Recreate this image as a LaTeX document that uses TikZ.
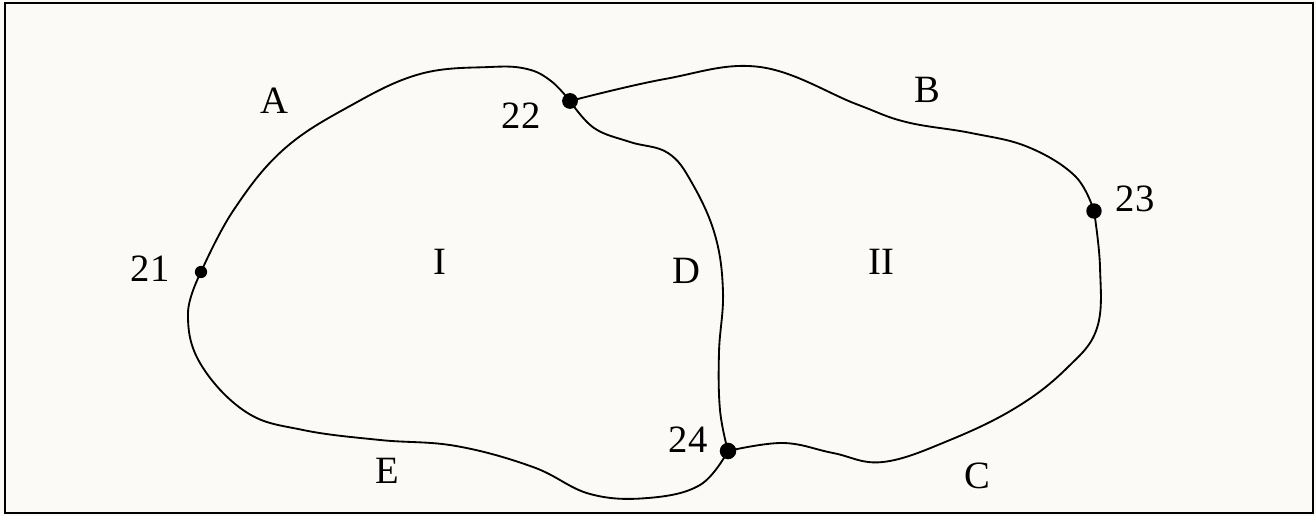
\documentclass[tikz,border=0pt]{standalone}
\usepackage{fontspec}
\setmainfont{Liberation Serif}
\begin{document}
\begin{tikzpicture}[x=0.02cm,y=-0.02cm,
  curve/.style={line width=1.05pt, line join=round, line cap=round},
  vertex/.style={circle, fill=black, inner sep=0pt, minimum size=#1},
  lbl/.style={inner sep=0pt, font=\fontsize{22}{26}\selectfont},
  frame/.style={line width=1.4pt}]
\definecolor{paper}{RGB}{252,250,247}
\fill[paper] (0,0) rectangle (1316,516);
\useasboundingbox (0,0) rectangle (1316,516);
\draw[frame] (5,3) rectangle (1313,513);

% vertices
\node[vertex=7pt] (n21) at (201,272) {};
\node[vertex=9pt] (n22) at (570,101) {};
\node[vertex=8.8pt] (n23) at (1094,211) {};
\node[vertex=9.4pt] (n24) at (728,451) {};

% curve A: 21 -- 22
\draw[curve] plot[smooth, tension=0.65] coordinates {(n21.center) (233,211) (283,150) (350,106) (420,74) (490,67) (527,69) (551,81) (n22.center)};
% curve E: 21 -- 24
\draw[curve] plot[smooth, tension=0.65] coordinates {(n21.center) (188,313) (200,363) (246,412) (303,430) (380,440) (456,446) (533,467) (590,494) (648,498) (700,485) (n24.center)};
% curve D: 22 -- 24
\draw[curve] plot[smooth, tension=0.65] coordinates {(n22.center) (594,128) (630,142) (668,153) (692,183) (715,235) (723,292) (719,352) (720,410) (n24.center)};
% curve B: 22 -- 23
\draw[curve] plot[smooth, tension=0.65] coordinates {(n22.center) (665,79) (760,67) (856,104) (906,122) (971,133) (1028,147) (1075,176) (n23.center)};
% curve C: 23 -- 24
\draw[curve] plot[smooth, tension=0.65] coordinates {(n23.center) (1100,267) (1097,328) (1067,368) (1017,407) (950,440) (883,462) (833,453) (783,443) (n24.center)};

% labels
\node[lbl] (l21) at (150,269) {21};
\node[lbl] (l22) at (521,116) {22};
\node[lbl] (l23) at (1135,199) {23};
\node[lbl] (l24) at (688,440) {24};
\node[lbl] (lA) at (274,101) {A};
\node[lbl] (lB) at (927,90) {B};
\node[lbl] (lC) at (977,476) {C};
\node[lbl] (lD) at (686,271) {D};
\node[lbl] (lE) at (387,471) {E};
\node[lbl] (lI) at (440,262) {I};
\node[lbl] (lII) at (881,262) {II};
\end{tikzpicture}
\end{document}
